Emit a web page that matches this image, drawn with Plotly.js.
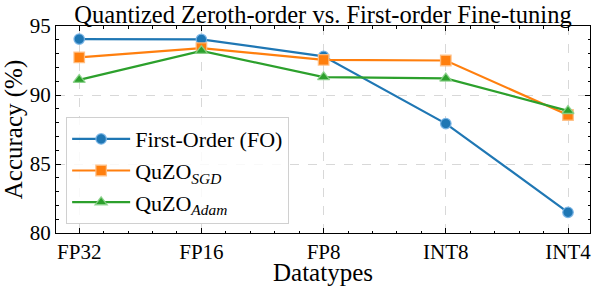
<!DOCTYPE html>
<html>
<head>
<meta charset="utf-8">
<script src="https://cdn.plot.ly/plotly-3.0.1.min.js"></script>
<style>html,body{margin:0;padding:0;background:#fff;}#chart{width:592px;height:286px;}</style>
</head>
<body>
<div id="chart"></div>
<script>
const categories = ["FP32", "FP16", "FP8", "INT8", "INT4"];
const foValues = [94.05, 94.03, 92.8, 87.93, 81.5];
const sgdValues = [92.72, 93.4, 92.55, 92.5, 88.55];
const adamValues = [91.1, 93.2, 91.3, 91.2, 88.85];
const seriesNames = ["First-Order (FO)", "QuZO<sub><i>SGD</i></sub>", "QuZO<sub><i>Adam</i></sub>"];
const yTickVals = [80, 85, 90, 95];

const xIdx = categories.map((_, i) => i);
const colors = ["#1f77b4", "#ff7f0e", "#2ca02c"];
const edgeColors = ["rgba(120,180,230,0.9)", "rgba(255,190,130,0.9)", "rgba(140,210,140,0.9)"];
const symbols = ["circle", "square", "triangle-up"];
const values = [foValues, sgdValues, adamValues];

const traces = values.map((v, k) => ({
  x: xIdx, y: v, name: seriesNames[k], type: "scatter", mode: "lines+markers",
  legendgroup: "g" + k,
  line: {color: colors[k], width: 2.2},
  marker: {symbol: symbols[k], size: 10.5, color: colors[k], line: {color: edgeColors[k], width: 1.3}}
}));

const FAM = "Liberation Serif";
const f = (size) => ({family: FAM, size: size, color: "#000"});
const layout = {
  width: 592, height: 286,
  margin: {l: 56, r: 2, t: 26, b: 53},
  paper_bgcolor: "#fff", plot_bgcolor: "#fff",
  font: f(21),
  title: {text: "Quantized Zeroth-order vs. First-order Fine-tuning", font: f(24.5),
          x: 0.5, xref: "paper", xanchor: "center", yref: "paper", y: 1, yanchor: "bottom", pad: {b: 3}},
  xaxis: {
    range: [-0.19, 4.18], tickvals: xIdx, ticktext: categories,
    ticks: "inside", ticklen: 5, tickwidth: 1, tickcolor: "#000",
    showline: true, linecolor: "#000", linewidth: 1, mirror: "allticks",
    showgrid: true, gridcolor: "#c8c8c8", griddash: "dash", gridwidth: 0.7,
    zeroline: false, tickfont: f(21),
    minor: {dtick: 0.2, tick0: 0, ticks: "inside", ticklen: 2.5, tickcolor: "#000", showgrid: false},
    title: {text: "Datatypes", font: f(25), standoff: 5}
  },
  yaxis: {
    range: [80, 95], tickvals: yTickVals,
    ticks: "inside", ticklen: 5, tickwidth: 1, tickcolor: "#000",
    showline: true, linecolor: "#000", linewidth: 1, mirror: "allticks",
    showgrid: true, gridcolor: "#c8c8c8", griddash: "dash", gridwidth: 0.7,
    zeroline: false, tickfont: f(21),
    minor: {dtick: 1, tick0: 80, ticks: "inside", ticklen: 2.5, tickcolor: "#000", showgrid: false},
    title: {text: "Accuracy (%)", font: f(25), standoff: 0}
  },
  legend: {
    x: 0.019, y: 0.043, xanchor: "left", yanchor: "bottom",
    bgcolor: "rgba(255,255,255,0.85)", bordercolor: "#d0d0d0", borderwidth: 1,
    font: f(22), itemwidth: 58, traceorder: "grouped", tracegroupgap: 0
  },
  showlegend: true
};

Plotly.newPlot("chart", traces, layout, {displayModeBar: false, staticPlot: true});
</script>
</body>
</html>
